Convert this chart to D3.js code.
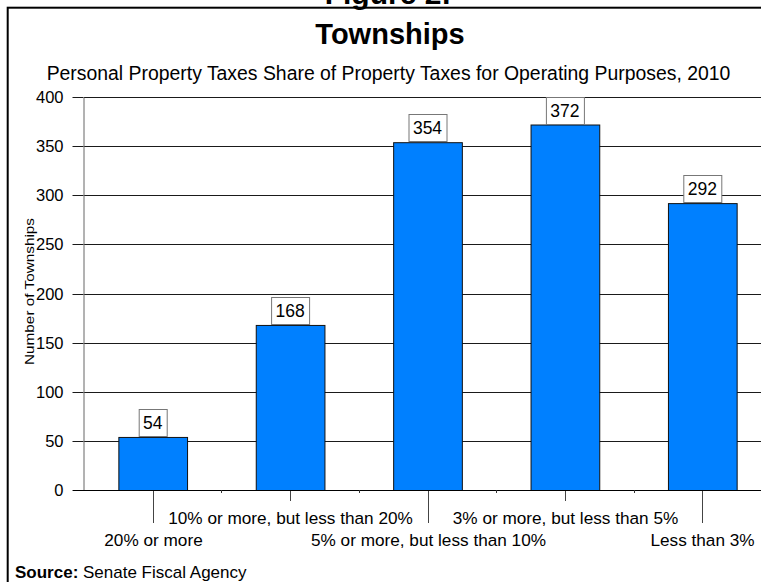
<!DOCTYPE html>
<html>
<head>
<meta charset="utf-8">
<script src="https://cdn.jsdelivr.net/npm/d3@7"></script>
<style>
  body { margin: 0; background: #fff; }
  svg { display: block; font-family: "Liberation Sans", Arial, sans-serif; }
</style>
</head>
<body>
<svg></svg>
<script>
const categories = [
  '20% or more',
  '10% or more, but less than 20%',
  '5% or more, but less than 10%',
  '3% or more, but less than 5%',
  'Less than 3%'
];
const values = [54, 168, 354, 372, 292];
const yTicks = [0, 50, 100, 150, 200, 250, 300, 350, 400];

const width = 761;
const height = 582;

const svg = d3.select('svg')
  .attr('width', width)
  .attr('height', height);

// outer frame (runs off the right and bottom edges)
svg.append('rect')
  .attr('x', 7.7).attr('y', 7.7)
  .attr('width', 800).attr('height', 600)
  .attr('fill', 'none')
  .attr('stroke', '#000')
  .attr('stroke-width', 2);

// the figure number is cropped at the top in the original too
svg.append('text')
  .attr('x', 388).attr('y', 4)
  .attr('text-anchor', 'middle')
  .attr('font-weight', 'bold')
  .attr('font-size', 30)
  .text('Figure 2:');

svg.append('text')
  .attr('x', 390).attr('y', 44)
  .attr('text-anchor', 'middle')
  .attr('font-weight', 'bold')
  .attr('font-size', 29)
  .text('Townships');

svg.append('text')
  .attr('x', 388.5).attr('y', 80)
  .attr('text-anchor', 'middle')
  .attr('font-size', 19.4)
  .text('Personal Property Taxes Share of Property Taxes for Operating Purposes, 2010');

const x = d3.scaleBand()
  .domain(categories)
  .range([84, 771])
  .paddingInner(0.5)
  .paddingOuter(0.25);

const y = d3.scaleLinear()
  .domain([0, 400])
  .range([490, 97]);

const g = svg.append('g');

// gridlines
g.selectAll('line.grid').data(yTicks.filter(d => d > 0))
  .enter().append('line')
  .attr('class', 'grid')
  .attr('x1', 84).attr('x2', width)
  .attr('y1', d => Math.round(y(d)) + 0.5)
  .attr('y2', d => Math.round(y(d)) + 0.5)
  .attr('stroke', '#1a1a1a')
  .attr('stroke-width', 1);

// y axis
const yAxis = g.append('g')
  .attr('transform', 'translate(83.5,0)')
  .call(d3.axisLeft(y).tickValues(yTicks).tickSize(11).tickSizeOuter(0).tickPadding(9));
yAxis.select('.domain').attr('stroke', '#666');
yAxis.selectAll('.tick line').attr('stroke', '#1a1a1a');
yAxis.selectAll('.tick').attr('transform', d => `translate(0,${Math.round(y(d)) + 0.5})`);
yAxis.selectAll('.tick text')
  .attr('font-size', 16.5)
  .attr('font-family', '"Liberation Sans", Arial, sans-serif')
  .attr('fill', '#000');

svg.append('text')
  .attr('transform', 'translate(34,291.5) rotate(-90)')
  .attr('text-anchor', 'middle')
  .attr('font-size', 13.5)
  .attr('textLength', 147)
  .attr('lengthAdjust', 'spacingAndGlyphs')
  .text('Number of Townships');

// bars
g.selectAll('rect.bar').data(values)
  .enter().append('rect')
  .attr('class', 'bar')
  .attr('x', (d, i) => x(categories[i]) + 0.5)
  .attr('y', d => y(d) + 0.5)
  .attr('width', x.bandwidth())
  .attr('height', d => y(0) - y(d))
  .attr('fill', '#0080ff')
  .attr('stroke', '#111')
  .attr('stroke-width', 1);

// baseline
g.append('line')
  .attr('x1', 73).attr('x2', width)
  .attr('y1', 490.5).attr('y2', 490.5)
  .attr('stroke', '#000');

// small ticks at band boundaries
const bounds = categories.slice(1).map(c => x(c) - x.step() * x.paddingInner() / 2);
g.selectAll('line.btick').data(bounds)
  .enter().append('line')
  .attr('x1', d => Math.round(d) + 0.5).attr('x2', d => Math.round(d) + 0.5)
  .attr('y1', 490).attr('y2', 493)
  .attr('stroke', '#333');

// value labels in boxes
const labels = g.selectAll('g.val').data(values)
  .enter().append('g')
  .attr('class', 'val')
  .attr('transform', (d, i) => `translate(${x(categories[i]) + x.bandwidth() / 2},${Math.round(y(d))})`);
const valText = labels.append('text')
  .attr('text-anchor', 'middle')
  .attr('y', -8)
  .attr('font-size', 17.5)
  .text(d => d);
labels.insert('rect', 'text')
  .each(function(d, i) {
    const w = valText.nodes()[i].getComputedTextLength() + 9;
    d3.select(this)
      .attr('x', Math.round(-w / 2) + 0.5)
      .attr('y', -27.5)
      .attr('width', Math.round(w))
      .attr('height', 27)
      .attr('fill', '#fff')
      .attr('stroke', '#777');
  });

// category labels, staggered in two rows
const cat = g.selectAll('g.cat').data(categories)
  .enter().append('g')
  .attr('class', 'cat')
  .attr('transform', d => `translate(${Math.round(x(d) + x.bandwidth() / 2) + 0.5},0)`);
cat.append('line')
  .attr('y1', 491)
  .attr('y2', (d, i) => i % 2 ? 501 : 523)
  .attr('stroke', '#444');
cat.append('text')
  .attr('text-anchor', 'middle')
  .attr('y', (d, i) => i % 2 ? 524 : 546)
  .attr('font-size', 17.2)
  .text(d => d);

const src = svg.append('text')
  .attr('x', 15).attr('y', 578)
  .attr('font-size', 17);
src.append('tspan').attr('font-weight', 'bold').text('Source:');
src.append('tspan').text(' Senate Fiscal Agency');
</script>
</body>
</html>
